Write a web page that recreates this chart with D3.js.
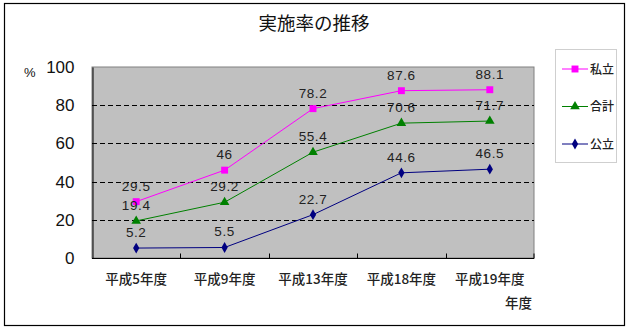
<!DOCTYPE html>
<html>
<head>
<meta charset="utf-8">
<script src="https://cdn.jsdelivr.net/npm/d3@7"></script>
<style>
  html, body { margin: 0; padding: 0; background: #fff; }
  svg { display: block; }
</style>
</head>
<body>
<svg id="chart" width="630" height="330"></svg>
<script>
// Survey years and implementation rate (%) by school type
const categories = ["平成5年度", "平成9年度", "平成13年度", "平成18年度", "平成19年度"];
const privateRate = [29.5, 46, 78.2, 87.6, 88.1];   // 私立
const totalRate   = [19.4, 29.2, 55.4, 70.6, 71.7]; // 合計
const publicRate  = [5.2, 5.5, 22.7, 44.6, 46.5];   // 公立
const yTicks = [0, 20, 40, 60, 80, 100];

const series = [
  { name: "私立", values: privateRate, color: "#ff00ff", shape: d3.symbolSquare, size: 48 },
  { name: "合計", values: totalRate,   color: "#008000", shape: d3.symbolTriangle, size: 40 },
  { name: "公立", values: publicRate,  color: "#000080", shape: d3.symbolDiamond, size: 34 }
];

const svg = d3.select("#chart");
const jp = "'Noto Sans CJK JP', 'Noto Sans', sans-serif";
const num = "'Liberation Sans', Arial, sans-serif";

// outer frame
svg.append("rect")
  .attr("x", 4.5).attr("y", 3.5).attr("width", 620).attr("height", 322)
  .attr("fill", "#fff").attr("stroke", "#000").attr("stroke-width", 1.2);

svg.append("text")
  .attr("x", 314).attr("y", 30)
  .attr("text-anchor", "middle")
  .attr("font-family", jp).attr("font-size", 18.5).attr("fill", "#111")
  .text("実施率の推移");

const plot = { left: 92, right: 534, top: 67, bottom: 258 };

const x = d3.scaleBand().domain(categories).range([plot.left, plot.right]);
const y = d3.scaleLinear().domain([0, 100]).range([plot.bottom, plot.top]);

// plot background
svg.append("rect")
  .attr("x", plot.left).attr("y", plot.top)
  .attr("width", plot.right - plot.left).attr("height", plot.bottom - plot.top)
  .attr("fill", "#c0c0c0").attr("stroke", "#808080").attr("stroke-width", 1);

// dashed gridlines
svg.append("g").selectAll("line")
  .data(yTicks.filter(t => t > 0 && t < 100))
  .join("line")
  .attr("x1", plot.left).attr("x2", plot.right)
  .attr("y1", d => Math.round(y(d)) + 0.5).attr("y2", d => Math.round(y(d)) + 0.5)
  .attr("stroke", "#000").attr("stroke-width", 1)
  .attr("stroke-dasharray", "5,3");

// y axis
const yAxis = svg.append("g")
  .attr("transform", `translate(${plot.left + 0.5},0)`)
  .call(d3.axisLeft(y).tickValues(yTicks).tickSize(0).tickPadding(18));
yAxis.select(".domain").attr("stroke", "#000");
yAxis.selectAll("text")
  .attr("font-family", num).attr("font-size", 17).attr("fill", "#111");

svg.append("text")
  .attr("x", 24).attr("y", 77)
  .attr("font-family", num).attr("font-size", 13).attr("fill", "#111")
  .text("%");

// x axis with inward ticks at category boundaries
const xAxisG = svg.append("g")
  .attr("transform", `translate(0,${plot.bottom + 0.5})`);
xAxisG.append("line")
  .attr("x1", plot.left).attr("x2", plot.right)
  .attr("stroke", "#000");
xAxisG.selectAll("line.tick")
  .data(categories.slice(1).concat(["__end"]))
  .join("line")
  .attr("class", "tick")
  .attr("x1", d => d === "__end" ? plot.right : Math.round(x(d)) + 0.5)
  .attr("x2", d => d === "__end" ? plot.right : Math.round(x(d)) + 0.5)
  .attr("y1", 0).attr("y2", -5)
  .attr("stroke", "#000");
xAxisG.selectAll("text")
  .data(categories)
  .join("text")
  .attr("x", d => x(d) + x.bandwidth() / 2)
  .attr("y", 25.5)
  .attr("text-anchor", "middle")
  .attr("font-family", jp).attr("font-size", 13.5).attr("font-weight", 500).attr("fill", "#222")
  .text(d => d);

svg.append("text")
  .attr("x", 532).attr("y", 308)
  .attr("text-anchor", "end")
  .attr("font-family", jp).attr("font-size", 13.5).attr("font-weight", 500).attr("fill", "#222")
  .text("年度");

// lines, markers and value labels
const cx = i => x(categories[i]) + x.bandwidth() / 2;
const line = d3.line().x((d, i) => cx(i)).y(d => y(d));

series.forEach(s => {
  const g = svg.append("g");
  g.append("path")
    .attr("d", line(s.values))
    .attr("fill", "none").attr("stroke", s.color).attr("stroke-width", 1);
  g.selectAll("path.m")
    .data(s.values)
    .join("path")
    .attr("class", "m")
    .attr("transform", (d, i) => `translate(${cx(i)},${y(d)})`)
    .attr("d", d3.symbol().type(s.shape).size(s.size))
    .attr("fill", s.color);
  g.selectAll("text")
    .data(s.values)
    .join("text")
    .attr("x", (d, i) => cx(i))
    .attr("y", d => y(d) - 11)
    .attr("text-anchor", "middle")
    .attr("font-family", num).attr("font-size", 13.5).attr("letter-spacing", 0.6)
    .attr("fill", "#222")
    .text(d => d);
});

// legend
const lg = svg.append("g");
lg.append("rect")
  .attr("x", 555.5).attr("y", 49.5).attr("width", 61).attr("height", 113)
  .attr("fill", "#fff").attr("stroke", "#cfcfcf");
series.forEach((s, i) => {
  const ly = 69 + i * 37.5;
  lg.append("line")
    .attr("x1", 562).attr("x2", 588).attr("y1", ly).attr("y2", ly)
    .attr("stroke", s.color);
  lg.append("path")
    .attr("transform", `translate(575,${ly})`)
    .attr("d", d3.symbol().type(s.shape).size(s.size))
    .attr("fill", s.color);
  lg.append("text")
    .attr("x", 590).attr("y", ly + 4.5)
    .attr("font-family", jp).attr("font-size", 12).attr("font-weight", 500).attr("fill", "#222")
    .text(s.name);
});
</script>
</body>
</html>
